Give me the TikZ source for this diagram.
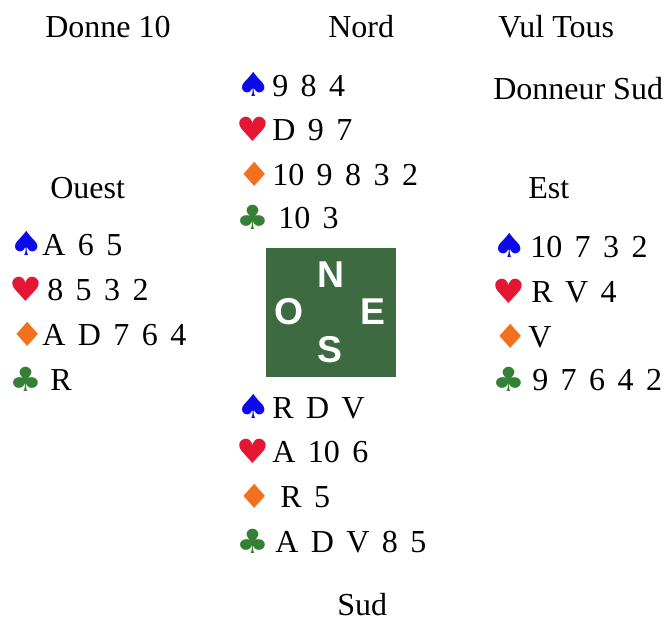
\documentclass[tikz,border=0pt]{standalone}
\usepackage{fontspec}
\usepackage{graphicx}
\setmainfont{Liberation Serif}
\newfontfamily\suitfont{DejaVu Sans}
\newfontfamily\boxfont{Liberation Sans}
\usetikzlibrary{positioning}

\definecolor{piqueblue}{RGB}{10,10,235}
\definecolor{coeurred}{RGB}{228,22,52}
\definecolor{carreauorange}{RGB}{242,112,30}
\definecolor{treflegreen}{RGB}{52,128,52}
\definecolor{tablegreen}{RGB}{62,106,66}

\newcommand\pique{\scalebox{1.15}[1]{\char"2660}}
\newcommand\coeur{\scalebox{1.1}[1]{\char"2665}}
\newcommand\carreau{\scalebox{1.15}[1]{\char"2666}}
\newcommand\trefle{\scalebox{1.1}[1]{\char"2663}}

\begin{document}
\begin{tikzpicture}[x=0.75pt, y=-0.75pt,
  heading/.style={inner sep=0pt, anchor=base west, font=\fontsize{24}{29}\selectfont},
  cards/.style={inner sep=0pt, anchor=base west,
    font={\fontsize{24}{29}\selectfont\spaceskip=0.39em\relax}},
  suit/.style={inner sep=0pt, anchor=base west, font=\fontsize{25}{28}\suitfont},
  compass/.style={inner sep=0pt, text=white, font=\fontsize{28}{30}\boxfont\bfseries},
  tablebox/.style={fill=tablegreen, minimum width=97.5pt, minimum height=97pt, inner sep=0pt}
]
\useasboundingbox[fill=white] (0,0) rectangle (669,621);

% headings
\node[heading] (donne) at (45,37) {Donne 10};
\node[heading] (nord) at (328,37) {Nord};
\node[heading] (vul) at (498,37) {Vul Tous};
\node[heading] (donneur) at (493,99) {Donneur Sud};
\node[heading] (ouest) at (50,198) {Ouest};
\node[heading] (est) at (528,198) {Est};
\node[heading] (sud) at (337,615) {Sud};

% table
\node[tablebox] (table) at (331,312.5) {};
\node[compass] (tN) at (330.5,274.5) {N};
\node[compass] (tO) at (289,311.5) {O};
\node[compass] (tE) at (372.5,311.5) {E};
\node[compass] (tS) at (330,350) {S};

% Nord
\node[suit, text=piqueblue] (nS) at (236,96) {\pique};
\node[suit, text=coeurred] (nH) at (236,141) {\coeur};
\node[suit, text=carreauorange] (nD) at (237,186) {\carreau};
\node[suit, text=treflegreen] (nC) at (236,229) {\trefle};
\node[cards] (nScards) at (272,96) {9 8 4};
\node[cards] (nHcards) at (272,140) {D 9 7};
\node[cards] (nDcards) at (272,185) {10 9 8 3 2};
\node[cards] (nCcards) at (278,228) {10 3};

% Ouest
\node[suit, text=piqueblue] (oS) at (9,255) {\pique};
\node[suit, text=coeurred] (oH) at (9,301) {\coeur};
\node[suit, text=carreauorange] (oD) at (10,346) {\carreau};
\node[suit, text=treflegreen] (oC) at (9,391) {\trefle};
\node[cards] (oScards) at (42,255) {A 6 5};
\node[cards] (oHcards) at (47,300) {8 5 3 2};
\node[cards] (oDcards) at (42,345) {A D 7 6 4};
\node[cards] (oCcards) at (50,390) {R};

% Est
\node[suit, text=piqueblue] (eS) at (492,257) {\pique};
\node[suit, text=coeurred] (eH) at (492,303) {\coeur};
\node[suit, text=carreauorange] (eD) at (493,348) {\carreau};
\node[suit, text=treflegreen] (eC) at (492,391) {\trefle};
\node[cards] (eScards) at (530,257) {10 7 3 2};
\node[cards] (eHcards) at (531,302) {R V 4};
\node[cards] (eDcards) at (528,347) {V};
\node[cards] (eCcards) at (532,390) {9 7 6 4 2};

% Sud
\node[suit, text=piqueblue] (sS) at (236,418) {\pique};
\node[suit, text=coeurred] (sH) at (236,463) {\coeur};
\node[suit, text=carreauorange] (sD) at (237,508) {\carreau};
\node[suit, text=treflegreen] (sC) at (236,553) {\trefle};
\node[cards] (sScards) at (272,418) {R D V};
\node[cards] (sHcards) at (272,462) {A 10 6};
\node[cards] (sDcards) at (280,507) {R 5};
\node[cards] (sCcards) at (275,552) {A D V 8 5};
\end{tikzpicture}
\end{document}
